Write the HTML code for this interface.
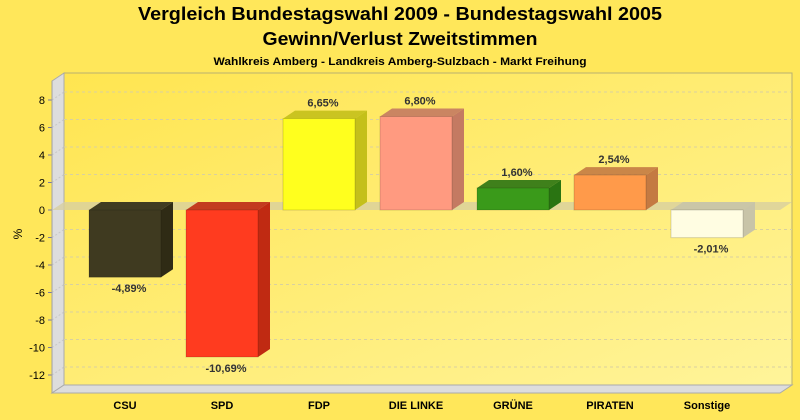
<!DOCTYPE html>
<html><head><meta charset="utf-8"><style>
body{margin:0;background:#ffe75a;}
svg{display:block;font-family:"Liberation Sans",sans-serif;}
</style></head><body>
<svg id="s" width="800" height="420" viewBox="0 0 800 420" xmlns="http://www.w3.org/2000/svg">
<defs>
<linearGradient id="bg" x1="0" y1="0" x2="1" y2="1">
<stop offset="0" stop-color="#ffe550"/><stop offset="1" stop-color="#fff49a"/>
</linearGradient>
</defs>
<rect width="800" height="420" fill="#ffe75a"/>
<text x="400" y="20" text-anchor="middle" font-weight="bold" font-size="18" textLength="524" lengthAdjust="spacingAndGlyphs">Vergleich Bundestagswahl 2009 - Bundestagswahl 2005</text>
<text x="400" y="45" text-anchor="middle" font-weight="bold" font-size="18" textLength="275" lengthAdjust="spacingAndGlyphs">Gewinn/Verlust Zweitstimmen</text>
<text x="400" y="65" text-anchor="middle" font-weight="bold" font-size="11" textLength="373" lengthAdjust="spacingAndGlyphs">Wahlkreis Amberg - Landkreis Amberg-Sulzbach - Markt Freihung</text>
<!-- back wall -->
<rect x="64" y="73" width="728" height="312" fill="url(#bg)" stroke="#b8b070" stroke-width="1"/>
<!-- left side wall -->
<polygon points="52,81 64,73 64,385 52,393" fill="#dddddd" stroke="#aaaaaa"/>
<!-- floor -->
<polygon points="52,393 64,385 792,385 780,393" fill="#dddddd" stroke="#aaaaaa"/>
<g id="g"></g>
<text transform="translate(22,234) rotate(-90)" text-anchor="middle" font-size="12">%</text>
</svg>
<script>
const g=document.getElementById('g');const NS='http://www.w3.org/2000/svg';
function el(t,a,txt){const e=document.createElementNS(NS,t);for(const k in a)e.setAttribute(k,a[k]);if(txt!==undefined)e.textContent=txt;g.appendChild(e);return e;}
const Y=v=>210-v*13.75;
for(let v=-12;v<=8;v+=2){const y=Y(v);
 if(v!==0){el('line',{x1:64,y1:y-8,x2:792,y2:y-8,stroke:'#d8d0a0','stroke-dasharray':'3,3'});
 el('line',{x1:52,y1:y,x2:64,y2:y-8,stroke:'#c8c8c8','stroke-dasharray':'2,2'});}
 el('line',{x1:48,y1:y,x2:52,y2:y,stroke:'#7a7aa0'});
 el('text',{x:45,y:y+4,'text-anchor':'end','font-size':'11'},String(v));}
el('line',{x1:52,y1:81,x2:52,y2:393,stroke:'#a0a0a0'});
// zero plane
el('polygon',{points:'52,210 64,202 792,202 780,210',fill:'#d8d0a0','fill-opacity':'0.8'});
const data=[['CSU',-4.89,'#3f3a20','#2f2b15'],['SPD',-10.69,'#ff3b1f','#c02a12'],['FDP',6.65,'#ffff1e','#c4c01a'],['DIE LINKE',6.8,'#ff9a80','#c47a62'],['GRÜNE',1.6,'#3a9a1a','#2a7412'],['PIRATEN',2.54,'#ff9a4a','#c47a42'],['Sonstige',-2.01,'#fffde2','#c8c4a8']];
data.forEach((d,i)=>{const cx=125+97*i,x=cx-36,w=72;const y0=Y(0),y1=Y(d[1]);const top=Math.min(y0,y1),bot=Math.max(y0,y1);
 el('polygon',{points:`${x+w},${top} ${x+w+12},${top-8} ${x+w+12},${bot-8} ${x+w},${bot}`,fill:d[3]});
 el('polygon',{points:`${x},${top} ${x+12},${top-8} ${x+w+12},${top-8} ${x+w},${top}`,fill:d[3],'fill-opacity':'0.9'});
 el('rect',{x:x,y:top,width:w,height:bot-top,fill:d[2],stroke:'rgba(0,0,0,0.15)'});
 const lbl=d[1].toFixed(2).replace('.',',')+'%';
 const ly=d[1]>0?top-12:bot+15;
 el('text',{x:cx+4,y:ly,'text-anchor':'middle','font-size':'11','font-weight':'bold',fill:'#333'},lbl);
 el('text',{x:cx,y:409,'text-anchor':'middle','font-size':'11','font-weight':'bold'},d[0]);
});
</script>
</body></html>
